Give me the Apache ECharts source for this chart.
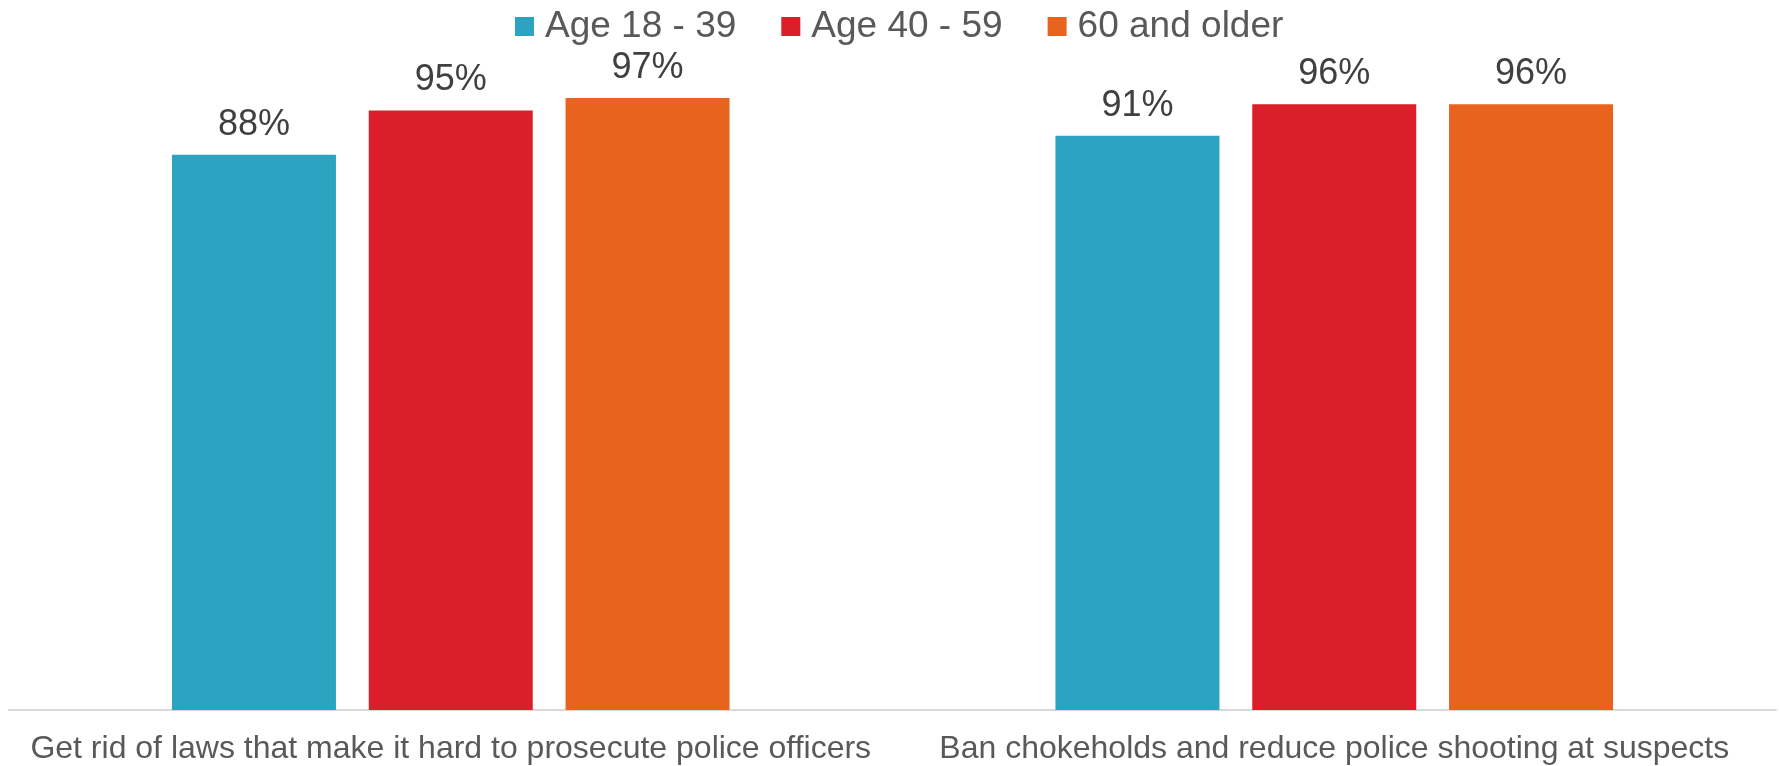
<!DOCTYPE html>
<html>
<head>
<meta charset="utf-8">
<script src="https://cdn.jsdelivr.net/npm/echarts@6/dist/echarts.min.js"></script>
<style>
html,body{margin:0;padding:0;background:#fff;}
#chart{width:1779px;height:766px;}
</style>
</head>
<body>
<div id="chart"></div>
<script>
const categories = ["Get rid of laws that make it hard to prosecute police officers", "Ban chokeholds and reduce police shooting at suspects"];
const seriesNames = ["Age 18 - 39", "Age 40 - 59", "60 and older"];
const age18to39 = [88, 91];
const age40to59 = [95, 96];
const age60plus = [97, 96];
const colors = ["#2ca3c0", "#da1f2a", "#e8641e"];

const chart = echarts.init(document.getElementById('chart'), null, {renderer: 'canvas'});
const data = [age18to39, age40to59, age60plus];
const font = '"Liberation Sans", Arial, sans-serif';
chart.setOption({
  animation: false,
  color: colors,
  legend: {
    top: 3,
    left: 510,
    itemWidth: 19,
    itemHeight: 19,
    itemGap: 45,
    icon: 'rect',
    textStyle: {fontSize: 37, color: '#595959', fontFamily: font, padding: [0, 0, 0, 6]},
    data: seriesNames
  },
  grid: {left: 9, right: 3, top: 79, bottom: 56, containLabel: false},
  xAxis: {
    type: 'category',
    data: categories,
    axisLine: {lineStyle: {color: '#d9d9d9', width: 2}},
    axisTick: {show: false},
    axisLabel: {fontSize: 32, color: '#595959', fontFamily: font, margin: 23, interval: 0}
  },
  yAxis: {
    type: 'value', min: 0, max: 100, show: false,
    splitLine: {show: false}
  },
  series: seriesNames.map((n, i) => ({
    name: n,
    type: 'bar',
    data: data[i],
    barWidth: 164,
    barGap: '20%',
    itemStyle: {color: colors[i]},
    label: {
      show: true, position: 'top', distance: 12,
      formatter: '{c}%', fontSize: 36, color: '#404040', fontFamily: font
    }
  }))
});
</script>
</body>
</html>
